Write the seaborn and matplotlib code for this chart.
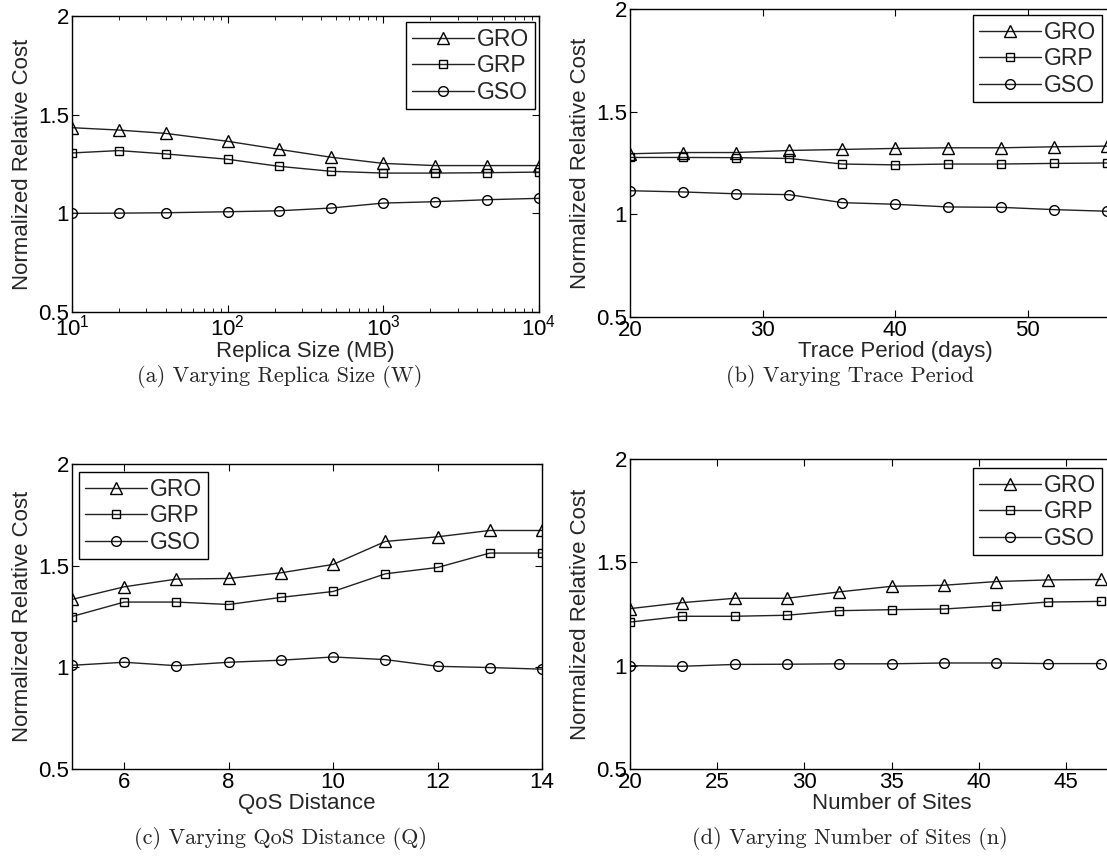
import numpy as np
import pandas as pd
import seaborn as sns
import matplotlib
matplotlib.use("Agg")
import matplotlib.pyplot as plt
from matplotlib.ticker import FixedLocator, FixedFormatter, LogLocator, NullFormatter

# ---------------- data ----------------
methods = ["GRO", "GRP", "GSO"]

# (a) replica size (MB), log scale
size_x = [10, 20, 40, 100, 215, 464, 1000, 2154, 4642, 10000]
size_gro = [1.434, 1.422, 1.405, 1.365, 1.324, 1.284, 1.253, 1.242, 1.242, 1.242]
size_grp = [1.306, 1.318, 1.301, 1.274, 1.238, 1.213, 1.204, 1.204, 1.206, 1.209]
size_gso = [1.000, 1.001, 1.003, 1.008, 1.013, 1.027, 1.052, 1.059, 1.069, 1.076]

# (b) trace period (days)
trace_x = [20, 24, 28, 32, 36, 40, 44, 48, 52, 56]
trace_gro = [1.295, 1.301, 1.301, 1.311, 1.316, 1.321, 1.324, 1.324, 1.329, 1.332]
trace_grp = [1.277, 1.277, 1.276, 1.272, 1.245, 1.241, 1.245, 1.245, 1.248, 1.250]
trace_gso = [1.115, 1.109, 1.100, 1.096, 1.057, 1.049, 1.036, 1.034, 1.023, 1.015]

# (c) QoS distance
qos_x = [5, 6, 7, 8, 9, 10, 11, 12, 13, 14]
qos_gro = [1.334, 1.396, 1.434, 1.437, 1.465, 1.506, 1.619, 1.642, 1.673, 1.673]
qos_grp = [1.250, 1.321, 1.321, 1.309, 1.344, 1.373, 1.460, 1.491, 1.562, 1.562]
qos_gso = [1.010, 1.025, 1.008, 1.025, 1.035, 1.051, 1.038, 1.005, 0.999, 0.991]

# (d) number of sites
sites_x = [20, 23, 26, 29, 32, 35, 38, 41, 44, 47]
sites_gro = [1.276, 1.305, 1.326, 1.326, 1.357, 1.384, 1.389, 1.407, 1.415, 1.417]
sites_grp = [1.211, 1.239, 1.239, 1.244, 1.266, 1.271, 1.274, 1.290, 1.308, 1.311]
sites_gso = [1.000, 0.997, 1.006, 1.007, 1.009, 1.009, 1.013, 1.013, 1.010, 1.010]

y_ticks = [0.5, 1, 1.5, 2]
y_ticklabels = ["0.5", "1", "1.5", "2"]

# ---------------- style ----------------
sns.set_theme(style="white")
plt.rcParams["font.family"] = ["Liberation Sans", "DejaVu Sans"]
plt.rcParams["mathtext.fontset"] = "custom"
plt.rcParams["mathtext.rm"] = "Liberation Sans"
plt.rcParams["mathtext.it"] = "Liberation Sans"
plt.rcParams["mathtext.default"] = "regular"
plt.rcParams["xtick.direction"] = "in"
plt.rcParams["ytick.direction"] = "in"
plt.rcParams["xtick.top"] = True
plt.rcParams["ytick.right"] = True
plt.rcParams["xtick.bottom"] = True
plt.rcParams["ytick.left"] = True

W, H = 1107, 865
fig = plt.figure(figsize=(W / 100, H / 100), dpi=100)


def px_axes(left, top, width, height):
    return fig.add_axes([left / W, 1 - (top + height) / H, width / W, height / H])


markers = {"GRO": ("^", 8), "GRP": ("s", 5.5), "GSO": ("o", 7)}
TICK_FS = 16
LABEL_FS = 16
LEG_FS = 16.5
CAP_FS = 16


def draw(ax, x, series, xlabel, caption, cap_xy, legend_anchor, legend_loc):
    for name, vals in zip(methods, series):
        df = pd.DataFrame({"x": x, "y": vals})
        mk, ms = markers[name]
        sns.lineplot(data=df, x="x", y="y", ax=ax, color="#222222", linewidth=1.0,
                     marker=mk, markersize=ms, markerfacecolor="none",
                     markeredgecolor="black", markeredgewidth=1.0, label=name,
                     legend=False)
    ax.set_ylim(0.5, 2)
    ax.yaxis.set_major_locator(FixedLocator(y_ticks))
    ax.yaxis.set_major_formatter(FixedFormatter(y_ticklabels))
    ax.set_ylabel("Normalized Relative Cost", fontsize=LABEL_FS, labelpad=4)
    ax.set_xlabel(xlabel, fontsize=LABEL_FS, labelpad=0)
    ax.tick_params(which="major", length=5, width=0.8, labelsize=TICK_FS, pad=2,
                   color="black", labelcolor="black")
    ax.tick_params(which="minor", length=3, width=0.6, color="black")
    for s in ax.spines.values():
        s.set_color("black")
        s.set_linewidth(1.0)
    handles, labels = ax.get_legend_handles_labels()
    leg = ax.legend(handles, labels, loc=legend_loc, bbox_to_anchor=legend_anchor,
                    bbox_transform=fig.transFigure, fontsize=LEG_FS, frameon=True,
                    fancybox=False, edgecolor="black", framealpha=1,
                    handlelength=2.7, handletextpad=0.15, borderpad=0.25,
                    labelspacing=0.15, borderaxespad=0)
    leg.get_frame().set_linewidth(1.0)
    fig.text(cap_xy[0] / W, 1 - cap_xy[1] / H, caption, fontsize=CAP_FS,
             family="cmr10", ha="center", va="center")


# (a)
ax_a = px_axes(72, 16, 467, 296)
draw(ax_a, size_x, [size_gro, size_grp, size_gso], "Replica Size (MB)",
     "(a) Varying Replica Size (W)", (280, 376), (535 / W, 1 - 22 / H), "upper right")
ax_a.set_xscale("log")
ax_a.set_xlim(10, 10000)
ax_a.xaxis.set_major_locator(LogLocator(base=10, numticks=10))
ax_a.xaxis.set_minor_locator(LogLocator(base=10, subs=np.arange(2, 10), numticks=20))
ax_a.xaxis.set_minor_formatter(NullFormatter())

# (b)
ax_b = px_axes(630, 9, 530, 308)
draw(ax_b, trace_x, [trace_gro, trace_grp, trace_gso], "Trace Period (days)",
     "(b) Varying Trace Period", (850, 376), (1102 / W, 1 - 15 / H), "upper right")
ax_b.set_xlim(20, 60)
ax_b.xaxis.set_major_locator(FixedLocator([20, 30, 40, 50]))

# (c)
ax_c = px_axes(72, 464, 470, 305)
draw(ax_c, qos_x, [qos_gro, qos_grp, qos_gso], "QoS Distance",
     "(c) Varying QoS Distance (Q)", (280, 839), (79 / W, 1 - 472 / H), "upper left")
ax_c.set_xlim(5, 14)
ax_c.xaxis.set_major_locator(FixedLocator([6, 8, 10, 12, 14]))

# (d)
ax_d = px_axes(630, 459, 523, 310)
draw(ax_d, sites_x, [sites_gro, sites_grp, sites_gso], "Number of Sites",
     "(d) Varying Number of Sites (n)", (850, 839), (1102 / W, 1 - 468 / H), "upper right")
ax_d.set_xlim(20, 50)
ax_d.xaxis.set_major_locator(FixedLocator([20, 25, 30, 35, 40, 45]))

fig.savefig("out.png", dpi=100)
